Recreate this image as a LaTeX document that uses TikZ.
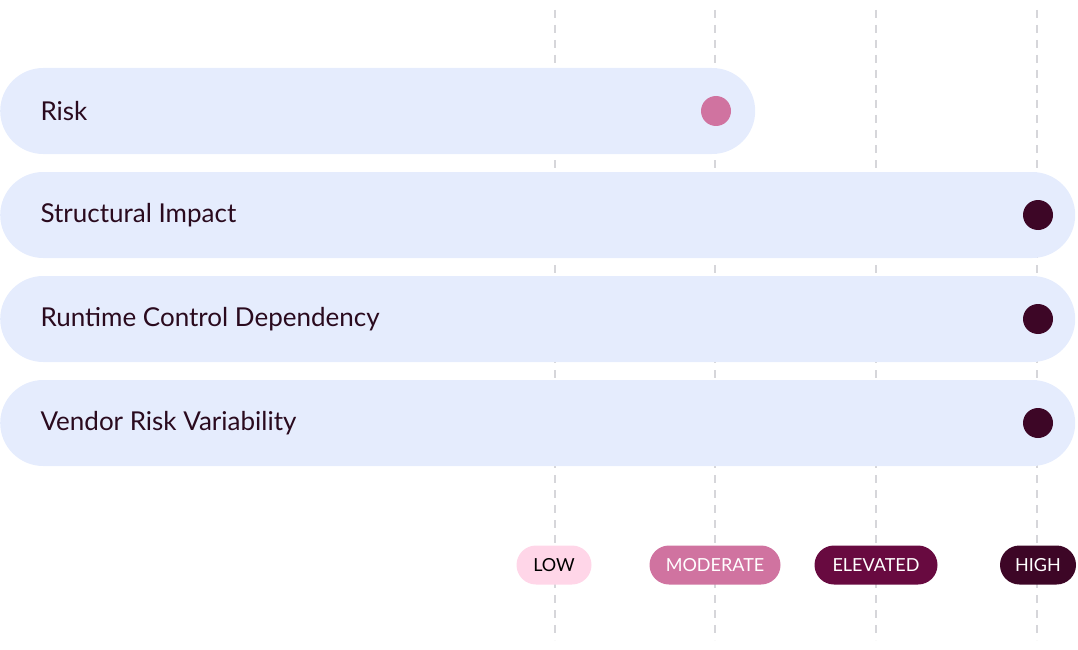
\documentclass[tikz,border=0pt]{standalone}
\usepackage{fontspec}
\setmainfont{Lato}
\definecolor{barfill}{HTML}{E5ECFD}
\definecolor{inktext}{HTML}{2A0A1E}
\definecolor{lowc}{HTML}{FFD6E8}
\definecolor{modc}{HTML}{D073A0}
\definecolor{elevc}{HTML}{680A40}
\definecolor{highc}{HTML}{3D0626}
\definecolor{gridc}{HTML}{D6D6DA}
\tikzset{
  bar/.style={rectangle, rounded corners=43pt, fill=barfill, minimum height=86pt, anchor=west, inner sep=0pt},
  label/.style={anchor=west, text=inktext, font=\fontsize{26}{30}\selectfont},
  dot/.style={circle, minimum size=30pt, inner sep=0pt},
  pill/.style={rectangle, rounded corners=19.5pt, minimum height=39pt, inner sep=0pt, font=\fontsize{18}{21}\selectfont},
  grid/.style={gridc, line width=1.4pt, dash pattern=on 8pt off 7pt}
}
\begin{document}
\begin{tikzpicture}[x=1pt,y=-1pt]
		\useasboundingbox (0,0) rectangle (1078,650);
		% vertical scale lines
		\foreach \name/\x in {low/555,mod/715,elev/876,high/1037}{
			\coordinate (\name top) at (\x,10);
			\coordinate (\name bot) at (\x,640);
			\draw[grid] (\name top) -- (\name bot);
		}
		% bars
		\node[bar, minimum width=755pt] (b1) at (0,111) {};
		\node[bar, minimum width=1075pt] (b2) at (0,215) {};
		\node[bar, minimum width=1075pt] (b3) at (0,319) {};
		\node[bar, minimum width=1075pt] (b4) at (0,423) {};
		\node[label] (t1) at (37,111) {Risk};
		\node[label] (t2) at (37,215) {Structural Impact};
		\node[label] (t3) at (37,319) {Runtime Control Dependency};
		\node[label] (t4) at (37,423) {Vendor Risk Variability};
		\node[dot, fill=modc] (d1) at (716,111) {};
		\node[dot, fill=highc] (d2) at (1038,215) {};
		\node[dot, fill=highc] (d3) at (1038,319) {};
		\node[dot, fill=highc] (d4) at (1038,423) {};
		% legend
		\node[pill, fill=lowc, text=black, minimum width=75pt] (p1) at (554,565) {LOW};
		\node[pill, fill=modc, text=white, minimum width=131pt] (p2) at (715,565) {MODERATE};
		\node[pill, fill=elevc, text=white, minimum width=123pt] (p3) at (876,565) {ELEVATED};
		\node[pill, fill=highc, text=white, minimum width=76pt] (p4) at (1038,565) {HIGH};
\end{tikzpicture}
\end{document}
